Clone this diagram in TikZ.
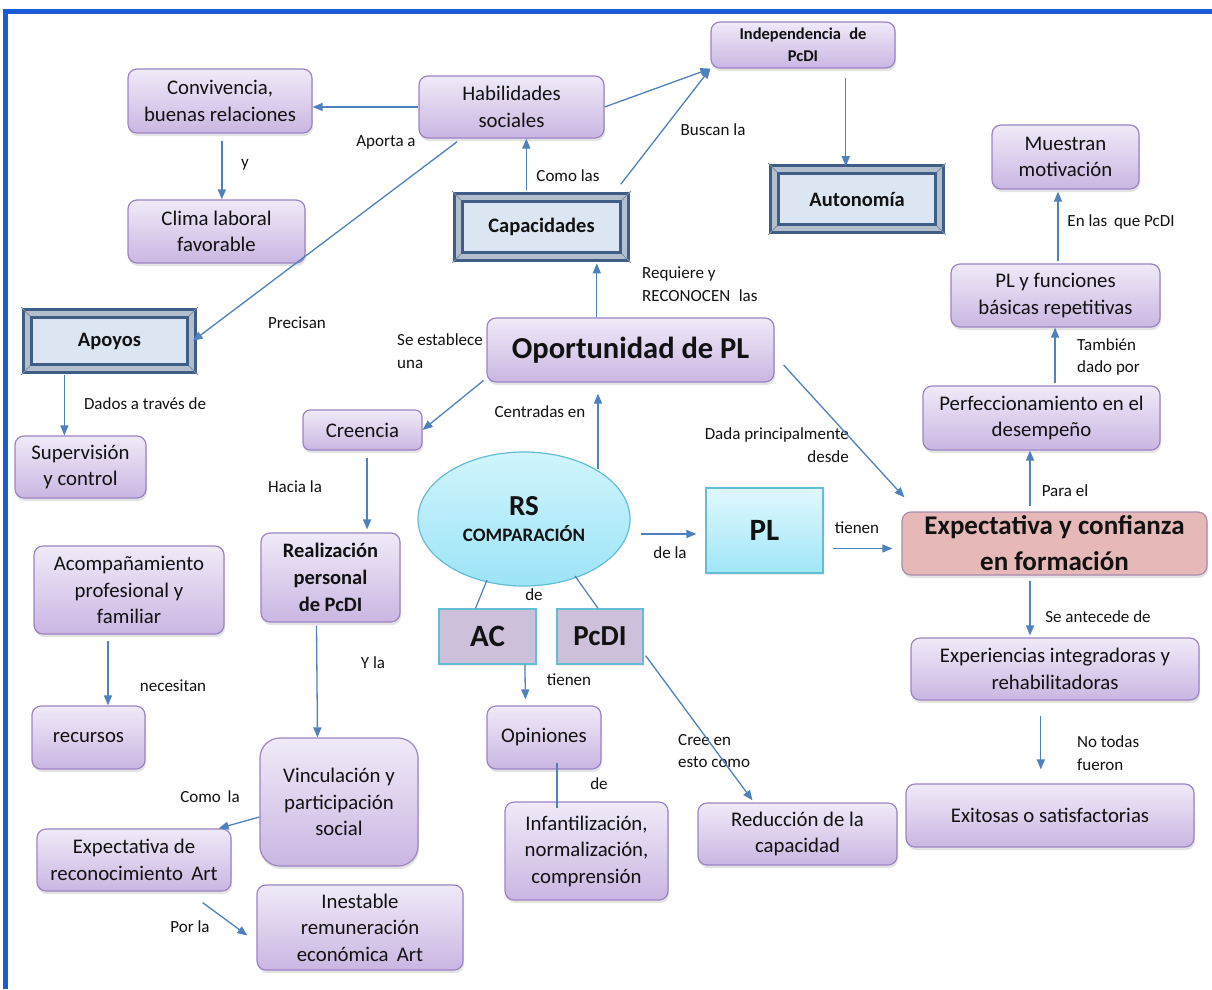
\documentclass[tikz,border=0pt]{standalone}
\usepackage{fontspec}
\setmainfont{Carlito}
\usetikzlibrary{arrows.meta,calc,shapes.geometric,shadows}

\definecolor{arrowblue}{HTML}{4F81BD}
\definecolor{frameblue}{HTML}{1A5AD7}
\definecolor{lilacTop}{HTML}{F0EAF8}
\definecolor{lilacBot}{HTML}{CAB6E2}
\definecolor{lilacEdge}{HTML}{9C84C4}
\definecolor{bevelDark}{HTML}{3E5E88}
\definecolor{bevelBand}{HTML}{B4BFCD}
\definecolor{bevelFill}{HTML}{DCE6F2}
\definecolor{bevelCorner}{HTML}{7F8DA2}
\definecolor{cyanTop}{HTML}{E0F8FD}
\definecolor{cyanBot}{HTML}{A0E6F8}
\definecolor{cyanEdge}{HTML}{62BDD6}
\definecolor{ellTop}{HTML}{D0F4FC}
\definecolor{ellBot}{HTML}{9CE4F7}
\definecolor{rosa}{HTML}{E6B9B8}
\definecolor{rosaEdge}{HTML}{A98CB0}
\definecolor{malva}{HTML}{CCC0DA}
\definecolor{ink}{HTML}{121212}

\tikzset{
  softshadow/.style={drop shadow={shadow xshift=1pt, shadow yshift=-3pt, opacity=0.22}},
  pbox/.style={rounded corners=9pt, draw=lilacEdge, line width=1.2pt,
    top color=lilacTop, bottom color=lilacBot, softshadow,
    align=center, inner sep=0pt, text=ink, font=\fontsize{20.8}{26.5}\selectfont},
  bevel/.style={draw=bevelDark, line width=2.6pt, double=bevelBand, double distance=5pt,
    fill=bevelFill, inner sep=0pt, align=center, text=ink,
    font=\fontsize{20.5}{24}\selectfont\bfseries},
  plainbox/.style={draw=cyanEdge, line width=1.4pt, fill=malva, inner sep=0pt, text=ink,
    drop shadow={shadow xshift=1pt, shadow yshift=-2pt, opacity=0.15}},
  lbl/.style={inner sep=0pt, text=ink, font=\fontsize{17}{22.5}\selectfont},
  arr/.style={draw=arrowblue, line width=1.3pt, -{Triangle[width=8pt,length=10pt]}},
  lnk/.style={draw=arrowblue, line width=1.2pt}
}

\begin{document}
\begin{tikzpicture}[x=1pt,y=-1pt]
\useasboundingbox (0,0) rectangle (1212,989);
\fill[white] (0,0) rectangle (1212,989);

% outer frame
\draw[frameblue, line width=4.5pt] (5.5,989) -- (5.5,11.3) -- (1212,11.3);

% ---------- concept boxes ----------
\node[pbox, minimum width=184pt, minimum height=64pt] (conv) at (220,101) {Convivencia,\\buenas relaciones};
\node[pbox, minimum width=185pt, minimum height=62pt] (hab) at (511.5,107) {Habilidades\\sociales};
\node[pbox, minimum width=184pt, minimum height=46pt, font=\fontsize{16.5}{22}\selectfont\bfseries] (indep) at (803,45) {Independencia\hspace{.5em}de\\PcDI};
\node[pbox, minimum width=177pt, minimum height=63pt] (clima) at (216.5,231.5) {Clima laboral\\favorable};
\node[bevel, minimum width=166pt, minimum height=59pt] (capac) at (541.5,227) {Capacidades};
\node[bevel, minimum width=165pt, minimum height=59pt] (auton) at (857,199) {Autonomía};
\node[pbox, minimum width=147pt, minimum height=64pt] (muestran) at (1065.5,157) {Muestran\\motivación};
\node[pbox, minimum width=209pt, minimum height=63pt] (plfun) at (1055.5,295.5) {PL y funciones\\básicas repetitivas};
\node[bevel, minimum width=164pt, minimum height=55pt] (apoyos) at (109.5,341) {Apoyos};
\node[pbox, minimum width=287pt, minimum height=64pt, font=\fontsize{30.5}{34}\selectfont\bfseries] (oport) at (630.5,350) {Oportunidad de PL};
\node[pbox, minimum width=237pt, minimum height=64pt] (perf) at (1041.5,418) {Perfeccionamiento en el\\desempeño};
\node[pbox, minimum width=119pt, minimum height=40pt, rounded corners=7pt] (creencia) at (362.5,430) {Creencia};
\node[pbox, minimum width=131pt, minimum height=62pt] (superv) at (80.5,467) {Supervisión\\y control};

\node[ellipse, draw=cyanEdge, line width=1.2pt, top color=ellTop, bottom color=ellBot,
      minimum width=212pt, minimum height=134pt, inner sep=0pt, align=center, text=ink] (rs) at (524,519)
      {{\fontsize{29}{30}\selectfont\bfseries RS}\\[9pt]{\fontsize{19}{22}\selectfont\bfseries COMPARACIÓN}};

\node[draw=cyanEdge, line width=1.2pt, top color=cyanTop, bottom color=cyanBot,
      minimum width=117pt, minimum height=85pt, inner sep=0pt, text=ink,
      drop shadow={shadow xshift=1pt, shadow yshift=-2pt, opacity=0.15},
      font=\fontsize{31}{34}\selectfont\bfseries] (plbox) at (764.5,530.5) {PL};

\node[rounded corners=9pt, draw=rosaEdge, line width=1.2pt, fill=rosa, softshadow,
      minimum width=305pt, minimum height=63pt, inner sep=0pt, align=center, text=ink,
      font=\fontsize{27}{36}\selectfont\bfseries] (expect) at (1054.5,543.5) {Expectativa y confianza\\en formación};

\node[pbox, minimum width=139pt, minimum height=89pt, font=\fontsize{20.5}{27}\selectfont\bfseries] (realiz) at (330.5,577.5) {Realización\\personal\\de PcDI};
\node[pbox, minimum width=190pt, minimum height=88pt] (acomp) at (129,590) {Acompañamiento\\profesional y\\familiar};
\node[plainbox, minimum width=97pt, minimum height=55pt, font=\fontsize{31}{34}\selectfont\bfseries] (ac) at (487.5,636.5) {AC};
\node[plainbox, minimum width=86pt, minimum height=55pt, font=\fontsize{29}{32}\selectfont\bfseries] (pcdi) at (600,636.5) {PcDI};
\node[pbox, minimum width=288pt, minimum height=62pt] (exper) at (1055,669) {Experiencias integradoras y\\rehabilitadoras};
\node[pbox, minimum width=114pt, minimum height=63pt] (opin) at (544,737.5) {Opiniones};
\node[pbox, minimum width=113pt, minimum height=63pt] (recursos) at (88.5,737.5) {recursos};
\node[pbox, minimum width=158pt, minimum height=128pt, rounded corners=20pt] (vinc) at (339,802) {Vinculación y\\participación\\social};
\node[pbox, minimum width=199pt, minimum height=62pt] (reduc) at (797.5,834) {Reducción de la\\capacidad};
\node[pbox, minimum width=288pt, minimum height=63pt] (exitosas) at (1050,815.5) {Exitosas o satisfactorias};
\node[pbox, minimum width=163pt, minimum height=98pt] (infant) at (586.5,851) {Infantilización,\\normalización,\\comprensión};
\node[pbox, minimum width=194pt, minimum height=62pt] (exprec) at (134,860) {Expectativa de\\reconocimiento\hspace{.4em}Art};
\node[pbox, minimum width=206pt, minimum height=85pt] (inest) at (360,927.5) {Inestable\\remuneración\\económica\hspace{.4em}Art};

% bevel corner seams
\foreach \n in {capac,auton,apoyos}{
  \draw[bevelCorner, line width=0.8pt] ($(\n.north west)+(-5,-5)$) -- ($(\n.north west)+(4,4)$);
  \draw[bevelCorner, line width=0.8pt] ($(\n.north east)+(5,-5)$) -- ($(\n.north east)+(-4,4)$);
  \draw[bevelCorner, line width=0.8pt] ($(\n.south west)+(-5,5)$) -- ($(\n.south west)+(4,-4)$);
  \draw[bevelCorner, line width=0.8pt] ($(\n.south east)+(5,5)$) -- ($(\n.south east)+(-4,-4)$);
}

% ---------- link labels ----------
\node[lbl] (l1) at (386,142) {Aporta a};
\node[lbl] (l2) at (245,165) {y};
\node[lbl] (l3) at (297,323) {Precisan};
\node[lbl] (l4) at (568,176) {Como las};
\node[lbl] (l5) at (713,130) {Buscan la};
\node[lbl, anchor=west, align=left] (l6) at (642,284) {Requiere y\\RECONOCEN\hspace{.5em}las};
\node[lbl, anchor=west, align=left] (l7) at (397,351) {Se establece\\una};
\node[lbl] (l8) at (540,412) {Centradas en};
\node[lbl, anchor=east, align=right] (l9) at (849,445) {Dada principalmente\\desde};
\node[lbl] (l10) at (670,553) {de la};
\node[lbl] (l11) at (857,528) {tienen};
\node[lbl] (l12) at (1065,491) {Para el};
\node[lbl, anchor=west, align=left] (l13) at (1077,357) {También\\dado por};
\node[lbl] (l14) at (1121,222) {En las\hspace{.4em}que PcDI};
\node[lbl] (l15) at (1098,617) {Se antecede de};
\node[lbl, anchor=west, align=left] (l16) at (1077,753) {No todas\\fueron};
\node[lbl] (l17) at (145,404) {Dados a través de};
\node[lbl] (l18) at (295,487) {Hacia la};
\node[lbl] (l19) at (373,663) {Y la};
\node[lbl] (l20) at (173,686) {necesitan};
\node[lbl] (l21) at (210,797) {Como\hspace{.4em}la};
\node[lbl] (l22) at (190,927) {Por la};
\node[lbl] (l23) at (534,595) {de};
\node[lbl] (l24) at (569,680) {tienen};
\node[lbl] (l25) at (599,784) {de};
\node[lbl, anchor=west, align=left] (l26) at (678,751) {Cree en\\esto como};

% ---------- connectors ----------
\draw[arr] (hab.west) -- (hab.west -| conv.east);

\coordinate (a1) at ($(conv.south west)!0.51!(conv.south east)$);
\draw[arr, shorten <=7pt] (a1) -- (a1 |- clima.north);

\coordinate (a2) at ($(hab.south west)!0.23!(hab.south east)$);
\draw[arr, shorten <=5pt] (a2) -- (apoyos.east);

\coordinate (a3) at ($(capac.north west)!0.41!(capac.north east)$);
\draw[arr, shorten <=6pt] (a3) -- (a3 |- hab.south);

\draw[arr] (hab.east) -- (indep.south west);
\coordinate (a4) at ($(capac.north east)+(-5,-12)$);
\draw[arr] (a4) -- (indep.south west);

\coordinate (a5) at ($(auton.north west)!0.433!(auton.north east)$);
\draw[arr, shorten <=9pt, shorten >=2pt] (a5 |- indep.south) -- (a5);

\coordinate (a6) at ($(oport.north west)!0.383!(oport.north east)$);
\draw[arr, shorten >=5.5pt] (a6) -- (a6 |- capac.south);

\coordinate (a7) at ($(oport.south west)+(-3,-2)$);
\draw[arr] (a7) -- (creencia.east);

\coordinate (a8) at ($(rs.center)+(74,-50)$);
\draw[arr, shorten >=11pt] (a8) -- (a8 |- oport.south);

\coordinate (a9) at ($(oport.east)+(9,15)$);
\coordinate (a10) at ($(expect.north west)+(3,-14)$);
\draw[arr] (a9) -- (a10);

\coordinate (a11) at ($(rs.east)+(10,15)$);
\draw[arr, shorten >=9pt] (a11) -- (a11 -| plbox.west);

\coordinate (a12) at ($(plbox.east)+(9,18)$);
\draw[arr, shorten >=9pt] (a12) -- (a12 -| expect.west);

\coordinate (a13) at ($(expect.north west)!0.42!(expect.north east)$);
\draw[arr, shorten <=5pt] (a13) -- (a13 |- perf.south);

\coordinate (a14) at ($(perf.north west)!0.557!(perf.north east)$);
\draw[arr, shorten <=2pt] (a14) -- (a14 |- plfun.south);

\coordinate (a15) at ($(plfun.north west)!0.512!(plfun.north east)$);
\draw[arr, shorten <=2pt, shorten >=2pt] (a15) -- (a15 |- muestran.south);

\coordinate (a16) at ($(expect.south west)!0.42!(expect.south east)$);
\draw[arr, shorten <=5pt, shorten >=2pt] (a16) -- (a16 |- exper.north);

\coordinate (a17) at ($(exper.south west)!0.451!(exper.south east)$);
\draw[arr, shorten <=15pt, shorten >=14pt] (a17) -- (a17 |- exitosas.north);

\coordinate (a18) at ($(apoyos.south west)!0.229!(apoyos.south east)$);
\draw[arr, shorten <=5pt] (a18) -- (a18 |- superv.north);

\coordinate (a19) at ($(creencia.south west)!0.538!(creencia.south east)$);
\draw[arr, shorten <=7pt, shorten >=3pt] (a19) -- (a19 |- realiz.north);

\coordinate (a20) at ($(realiz.south west)!0.40!(realiz.south east)$);
\draw[arr, shorten <=3pt] (a20) -- ($(a20 |- vinc.north)+(1,0)$);

\coordinate (a21) at ($(acomp.south west)!0.39!(acomp.south east)$);
\draw[arr, shorten <=6pt] (a21) -- (a21 |- recursos.north);

\coordinate (a22) at ($(vinc.west)+(0,15)$);
\coordinate (a23) at ($(exprec.north east)+(-13,0)$);
\draw[arr] (a22) -- (a23);

\coordinate (a24) at ($(exprec.south east)+(-29,11)$);
\coordinate (a25) at ($(inest.west)+(-9,8)$);
\draw[arr] (a24) -- (a25);

\coordinate (a26) at ($(rs.center)+(-37,61)$);
\coordinate (a27) at ($(ac.north)+(-12,0)$);
\draw[lnk] (a26) -- (a27);

\coordinate (a28) at ($(rs.center)+(51,57)$);
\coordinate (a29) at ($(pcdi.north)+(-2,0)$);
\draw[lnk] (a28) -- (a29);

\coordinate (a30) at ($(ac.south west)!0.88!(ac.south east)$);
\coordinate (a31) at ($(opin.north west)+(39,-6)$);
\draw[arr] (a30) -- (a31);

\coordinate (a32) at ($(opin.south)+(13,-7)$);
\coordinate (a33) at ($(infant.north)+(-29.5,7)$);
\draw[lnk] (a32) -- (a33);

\coordinate (a34) at ($(pcdi.south east)+(2,-9)$);
\coordinate (a35) at ($(reduc.north)+(-45,-2)$);
\draw[arr] (a34) -- (a35);
\end{tikzpicture}
\end{document}
